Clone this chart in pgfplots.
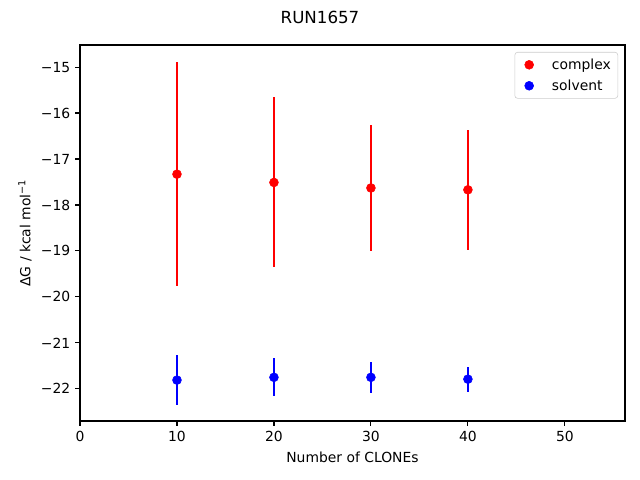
\documentclass[border=0pt]{standalone}
\usepackage{fontspec}
\setmainfont{DejaVu Sans}
\usepackage{pgfplots}
\pgfplotsset{compat=1.18}
\usepackage{pgfplotstable}

% x, mean, standard error
\pgfplotstableread{
x   y       e
10  -17.33  2.43
20  -17.51  1.85
30  -17.63  1.38
40  -17.67  1.30
}\complexdata
\pgfplotstableread{
x   y       e
10  -21.81  0.54
20  -21.75  0.41
30  -21.75  0.33
40  -21.79  0.27
}\solventdata

\begin{document}
\begin{tikzpicture}
\begin{axis}[
  scale only axis,
  width=392.4pt, height=270.7pt,
  xmin=0, xmax=56.2,
  ymin=-22.70, ymax=-14.52,
  xtick={0,10,20,30,40,50},
  ytick={-22,-21,-20,-19,-18,-17,-16,-15},
  yticklabels={−22,−21,−20,−19,−18,−17,−16,−15},
  /pgf/number format/assume math mode=true,
  tick label style={font=\fontsize{10}{12}\selectfont},
  tick align=outside, major tick length=3.5pt,
  xtick pos=bottom, ytick pos=left,
  every tick/.style={black, line width=0.8pt},
  axis line style={line width=0.8pt},
  xlabel={Number of CLONEs},
  ylabel={ΔG / kcal mol\textsuperscript{−1}},
  label style={font=\fontsize{10}{12}\selectfont},
  xlabel style={at={(axis description cs:0.5,-0.0957)}, anchor=center},
  ylabel style={at={(axis description cs:-0.1009,0.5)}, anchor=center},
  legend cell align=left,
  legend image code/.code={
    \path (0cm,0cm) (0.75cm,0cm);
    \draw[#1] plot coordinates {(0.25cm,0cm)};
  },
  legend style={at={(1,1)}, xshift=-5pt, yshift=-5pt, anchor=north east,
    draw=black!20, rounded corners=2pt, font=\fontsize{10}{12}\selectfont,
    row sep=2pt, inner xsep=3pt, inner ysep=2.5pt},
]
\addplot[only marks, red, mark=*, mark size=3.2pt,
  error bars/.cd, y dir=both, y explicit, error mark=none,
  error bar style={line width=1.5pt, red}]
  table[x=x, y=y, y error=e] {\complexdata};
\addlegendentry{complex}
\addplot[only marks, blue, mark=*, mark size=3.2pt,
  error bars/.cd, y dir=both, y explicit, error mark=none,
  error bar style={line width=1.5pt, blue}]
  table[x=x, y=y, y error=e] {\solventdata};
\addlegendentry{solvent}
\end{axis}
\node[font=\fontsize{12}{14}\selectfont] at ([shift={(172.8pt,290.88pt)}]current axis.south west) {RUN1657};
\useasboundingbox ([shift={(-57.6pt,-42.48pt)}]current axis.south west) rectangle ++(460.8pt,345.6pt);
\end{tikzpicture}
\end{document}
